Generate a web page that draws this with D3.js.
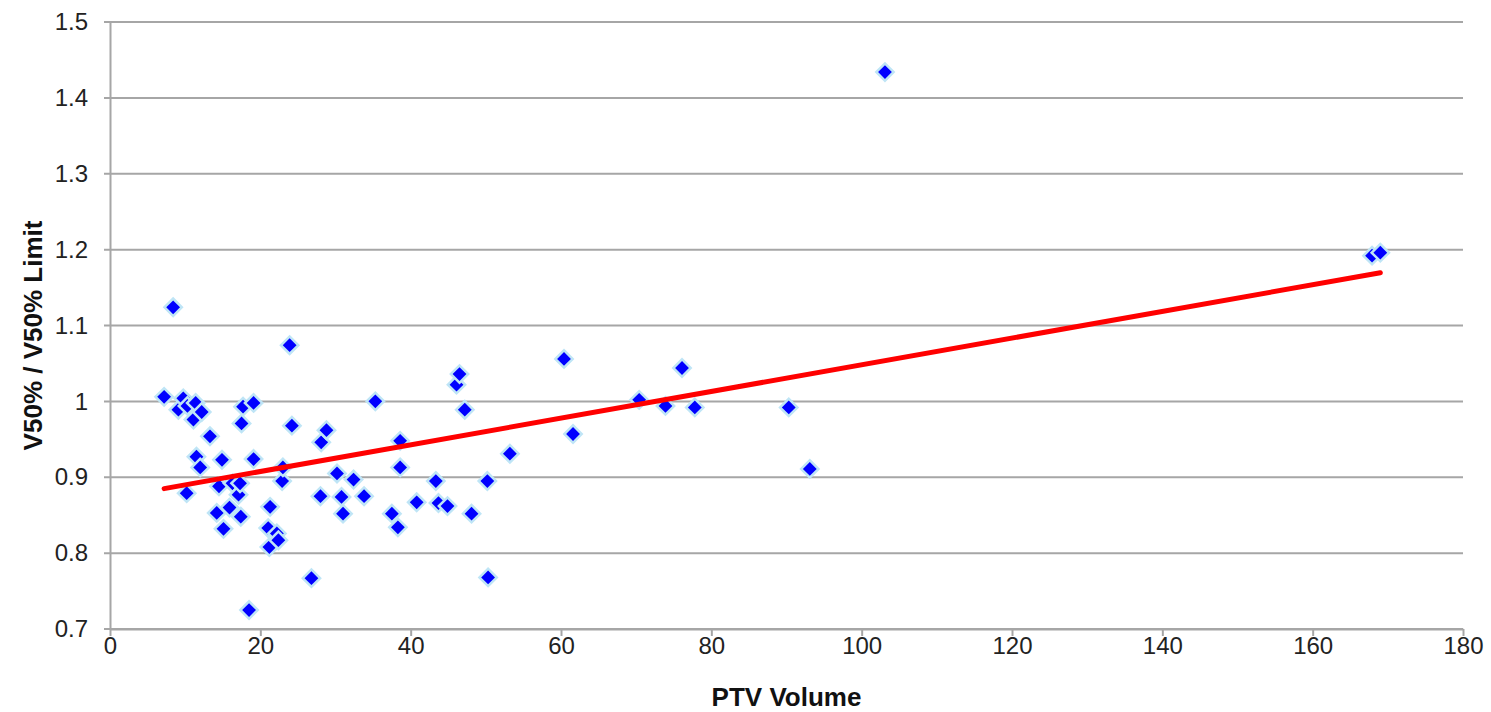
<!DOCTYPE html>
<html>
<head>
<meta charset="utf-8">
<script src="https://cdnjs.cloudflare.com/ajax/libs/d3/7.8.5/d3.min.js"></script>
<style>
  body { margin: 0; background: #fff; }
  text { font-family: "Liberation Sans", Arial, sans-serif; }
</style>
</head>
<body>
<svg id="chart" width="1491" height="712"></svg>
<script>
// PTV volume vs V50% ratio
var ptvVolume = [7.2, 8.4, 9.1, 9.75, 10.2, 10.3, 11.1, 11.4, 11.5, 12.0,
                 12.2, 13.3, 14.2, 14.5, 14.9, 15.1, 15.9, 16.3, 17.1, 17.3,
                 17.4, 17.5, 17.7, 18.5, 19.1, 19.1, 21.05, 21.2, 21.3, 22.2,
                 22.4, 22.9, 23.0, 23.9, 24.2, 26.8, 28.0, 28.1, 28.8, 30.2,
                 30.8, 31.0, 32.4, 33.8, 35.3, 37.5, 38.3, 38.6, 38.6, 40.8,
                 43.35, 43.7, 44.9, 46.1, 46.5, 47.2, 48.1, 50.2, 50.3, 53.2,
                 60.4, 61.6, 70.4, 73.9, 76.1, 77.8, 90.3, 93.1, 103.1, 167.9,
                 169.0];
var v50Ratio = [1.006, 1.124, 0.989, 1.004, 0.879, 0.994, 0.976, 0.998, 0.927, 0.913,
                0.986, 0.954, 0.853, 0.888, 0.923, 0.832, 0.860, 0.892, 0.877, 0.892,
                0.848, 0.971, 0.993, 0.725, 0.998, 0.924, 0.833, 0.808, 0.861, 0.826,
                0.817, 0.895, 0.913, 1.074, 0.968, 0.767, 0.875, 0.946, 0.962, 0.905,
                0.874, 0.852, 0.897, 0.875, 1.000, 0.852, 0.834, 0.948, 0.913, 0.867,
                0.895, 0.866, 0.862, 1.022, 1.036, 0.989, 0.852, 0.895, 0.768, 0.931,
                1.056, 0.957, 1.002, 0.994, 1.044, 0.992, 0.992, 0.911, 1.434, 1.192,
                1.196];
var xTicks = [0, 20, 40, 60, 80, 100, 120, 140, 160, 180];
var yTicks = [0.7, 0.8, 0.9, 1.0, 1.1, 1.2, 1.3, 1.4, 1.5];

var svg = d3.select("#chart");
var plotL = 110, plotR = 1463, plotT = 22, plotB = 629;

var x = d3.scaleLinear().domain([0, 180]).range([plotL, plotR]);
var y = d3.scaleLinear().domain([0.7, 1.5]).range([plotB, plotT]);

// gridlines
svg.append("g").selectAll("line").data(yTicks).enter().append("line")
    .attr("x1", plotL - 6).attr("x2", plotR)
    .attr("y1", function(d){ return y(d); }).attr("y2", function(d){ return y(d); })
    .attr("stroke", "#a6a6a6").attr("stroke-width", 2);

// y axis
var yAxis = svg.append("g").attr("transform", "translate(" + plotL + ",0)")
    .call(d3.axisLeft(y).tickValues(yTicks).tickSize(0).tickPadding(22)
          .tickFormat(function(d){ return d === 1 ? "1" : d3.format(".1f")(d); }));
yAxis.select(".domain").attr("stroke", "#a6a6a6").attr("stroke-width", 2);
yAxis.selectAll("text").attr("font-size", 24).attr("fill", "#222")
    .style("font-family", "'Liberation Sans', Arial, sans-serif");

// x axis
var xAxis = svg.append("g").attr("transform", "translate(0," + plotB + ")")
    .call(d3.axisBottom(x).tickValues(xTicks).tickSize(7).tickPadding(1).tickSizeOuter(0));
xAxis.select(".domain").attr("stroke", "#a6a6a6").attr("stroke-width", 2);
xAxis.selectAll(".tick line").attr("stroke", "#a6a6a6").attr("stroke-width", 2);
xAxis.selectAll("text").attr("font-size", 24).attr("fill", "#222")
    .style("font-family", "'Liberation Sans', Arial, sans-serif");

// points
var pts = ptvVolume.map(function(v, i){ return [v, v50Ratio[i]]; });
svg.append("g").selectAll("path").data(pts).enter().append("path")
    .attr("d", d3.symbol().type(d3.symbolSquare).size(150))
    .attr("transform", function(d){ return "translate(" + x(d[0]) + "," + y(d[1]) + ") rotate(45)"; })
    .attr("fill", "#0000ff").attr("stroke", "#bfe5f6").attr("stroke-width", 2.5);

// linear trend line (least squares)
var mx = d3.mean(ptvVolume), my = d3.mean(v50Ratio);
var sxy = d3.sum(pts, function(d){ return (d[0] - mx) * (d[1] - my); });
var sxx = d3.sum(pts, function(d){ return (d[0] - mx) * (d[0] - mx); });
var slope = sxy / sxx, icpt = my - slope * mx;
var ext = d3.extent(ptvVolume);
svg.append("path")
    .datum(ext.map(function(v){ return [v, icpt + slope * v]; }))
    .attr("d", d3.line().x(function(d){ return x(d[0]); }).y(function(d){ return y(d[1]); }))
    .attr("stroke", "#ff0000").attr("stroke-width", 5).attr("fill", "none")
    .attr("stroke-linecap", "round");

// axis titles
svg.append("text").attr("x", (plotL + plotR) / 2).attr("y", 706)
    .attr("text-anchor", "middle").attr("font-size", 26).attr("font-weight", "bold")
    .attr("fill", "#111").text("PTV Volume");
svg.append("text").attr("transform", "translate(42," + ((plotT + plotB) / 2 + 10) + ") rotate(-90)")
    .attr("text-anchor", "middle").attr("font-size", 26).attr("font-weight", "bold")
    .attr("fill", "#111").text("V50% / V50% Limit");
</script>
</body>
</html>
